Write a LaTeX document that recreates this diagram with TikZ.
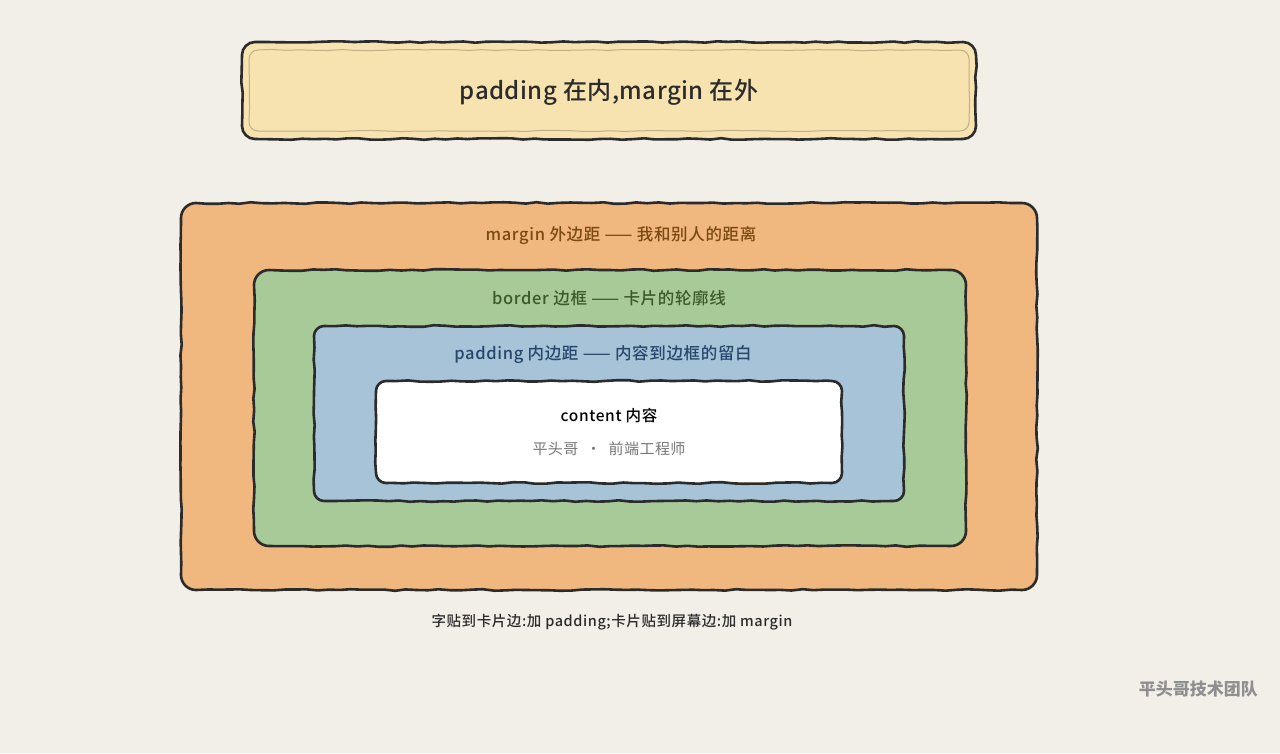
\documentclass[tikz,border=0pt]{standalone}
\usepackage{fontspec}
\setmainfont{Noto Sans CJK SC}
\newfontfamily\cjk{Noto Sans CJK SC}
\newfontfamily\cjkmed{Noto Sans CJK SC Medium}
\usetikzlibrary{decorations.pathmorphing}
\definecolor{bgc}{HTML}{F2EFE8}
\definecolor{inkc}{HTML}{2B2B2B}
\definecolor{titlec}{HTML}{F7E3B0}
\definecolor{titleline}{HTML}{BFAE88}
\definecolor{marginc}{HTML}{F0B77F}
\definecolor{borderc}{HTML}{A8CA98}
\definecolor{paddingc}{HTML}{A7C3D8}
\definecolor{margintxt}{HTML}{7A4A12}
\definecolor{bordertxt}{HTML}{3B5A28}
\definecolor{paddingtxt}{HTML}{27476A}
\definecolor{greytxt}{HTML}{777777}
\definecolor{footc}{HTML}{8F8F8F}
\tikzset{
  sketch/.style={draw=inkc, line width=2.6pt, line join=round,
    decoration={random steps, segment length=11pt, amplitude=0.8pt}},
  innerline/.style={draw=titleline, line width=1pt, line join=round,
    decoration={random steps, segment length=14pt, amplitude=0.6pt}},
  lbl/.style={font=\cjkmed\fontsize{16.5}{19}\selectfont\addfontfeatures{LetterSpace=4}, inner sep=0pt},
}
% #1 style, #2 x1, #3 y1, #4 x2, #5 y2, #6 radius (px)
\newcommand\skbox[6]{%
  \draw[#1] ({#2+#6},#3) decorate{-- ({#4-#6},#3)}
    .. controls ({#4-0.45*#6},#3) and (#4,{#3+0.45*#6}) .. (#4,{#3+#6}) decorate{-- (#4,{#5-#6})}
    .. controls (#4,{#5-0.45*#6}) and ({#4-0.45*#6},#5) .. ({#4-#6},#5) decorate{-- ({#2+#6},#5)}
    .. controls ({#2+0.45*#6},#5) and (#2,{#5-0.45*#6}) .. (#2,{#5-#6}) decorate{-- (#2,{#3+#6})}
    .. controls (#2,{#3+0.45*#6}) and ({#2+0.45*#6},#3) .. ({#2+#6},#3) -- cycle;}
\pgfmathsetseed{11}
\begin{document}
\begin{tikzpicture}[x=1pt,y=-1pt]
\useasboundingbox[fill=bgc] (0,0) rectangle (1280,753);
% title box
\skbox{sketch, fill=titlec}{242}{42}{976}{139}{13}
\skbox{innerline}{249}{50}{969}{131}{9}
\node[inner sep=0pt, text=inkc, font=\cjkmed\fontsize{24}{28}\selectfont\addfontfeatures{LetterSpace=2}] (title) at (609,92) {padding 在内,margin 在外};
% nested boxes
\skbox{sketch, fill=marginc}{181}{203}{1037}{590}{15}
\coordinate (marginbox) at (609,396);
\skbox{sketch, fill=borderc}{254}{270}{966}{546}{15}
\coordinate (borderbox) at (610,408);
\skbox{sketch, fill=paddingc}{314}{326}{904}{501}{10}
\coordinate (paddingbox) at (609,413);
\skbox{sketch, fill=white}{376}{381}{842}{483}{10}
\coordinate (contentbox) at (609,432);
% labels
\node[lbl, text=margintxt] (mlabel) at (621,236) {margin 外边距 —— 我和别人的距离};
\node[lbl, text=bordertxt] (blabel) at (609,298) {border 边框 —— 卡片的轮廓线};
\node[lbl, text=paddingtxt] (plabel) at (603,354) {padding 内边距 —— 内容到边框的留白};
\node[lbl, text=black, font=\cjkmed\fontsize{15.5}{18}\selectfont\addfontfeatures{LetterSpace=4}] (clabel) at (609,416) {content 内容};
\node[inner sep=0pt, text=greytxt, font=\cjk\fontsize{15}{18}\selectfont\addfontfeatures{LetterSpace=3}] (sub) at (609,449) {平头哥 \ · \ 前端工程师};
% caption
\node[inner sep=0pt, text=inkc, font=\cjkmed\fontsize{14.5}{17}\selectfont\addfontfeatures{LetterSpace=4}] (cap) at (612,622) {字贴到卡片边:加 padding;卡片贴到屏幕边:加 margin};
% footer
\node[inner sep=0pt, anchor=east, text=footc, font=\cjk\bfseries\fontsize{17}{20}\selectfont] (foot) at (1258,689) {平头哥技术团队};
\end{tikzpicture}
\end{document}
